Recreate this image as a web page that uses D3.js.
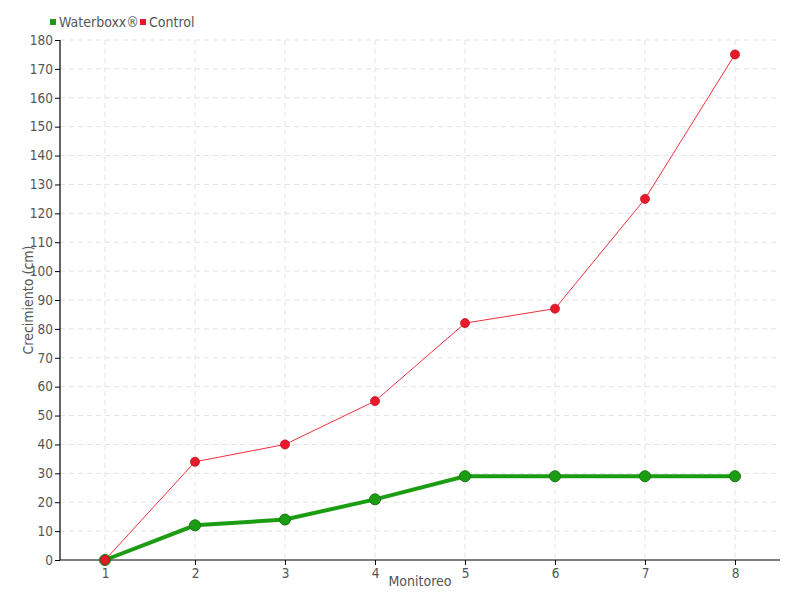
<!DOCTYPE html>
<html>
<head>
<meta charset="utf-8">
<script src="https://cdn.jsdelivr.net/npm/d3@7"></script>
<style>
  body { margin: 0; background: #fff; }
  text { font-family: "DejaVu Sans", sans-serif; font-stretch: condensed; fill: #555; }
</style>
</head>
<body>
<svg id="chart" width="800" height="600"></svg>
<script>
var monitoreo = ["1", "2", "3", "4", "5", "6", "7", "8"];
var waterboxx = [0, 12, 14, 21, 29, 29, 29, 29];
var control = [0, 34, 40, 55, 82, 87, 125, 175];
var yTicks = d3.range(0, 181, 10);

var margin = { top: 40, right: 20, bottom: 40, left: 60 };
var width = 800 - margin.left - margin.right;
var height = 600 - margin.top - margin.bottom;
var fontFam = '"DejaVu Sans", sans-serif';

var svg = d3.select('#chart');
var g = svg.append('g').attr('transform', 'translate(' + margin.left + ',' + margin.top + ')');

var x = d3.scalePoint().domain(monitoreo).range([0, width]).padding(0.5);
var y = d3.scaleLinear().domain([0, 180]).range([height, 0]);

// grid
g.append('g').selectAll('line.hgrid')
    .data(yTicks.slice(1))
    .enter().append('line')
    .attr('x1', 0).attr('x2', width)
    .attr('y1', function (d) { return y(d); })
    .attr('y2', function (d) { return y(d); })
    .attr('stroke', '#e3e3e3').attr('stroke-dasharray', '5,4');

g.append('g').selectAll('line.vgrid')
    .data(monitoreo)
    .enter().append('line')
    .attr('x1', function (d) { return x(d); })
    .attr('x2', function (d) { return x(d); })
    .attr('y1', 0).attr('y2', height)
    .attr('stroke', '#e3e3e3').attr('stroke-dasharray', '5,4');

// axes
var yAxis = g.append('g')
    .call(d3.axisLeft(y).tickValues(yTicks).tickSize(5).tickPadding(2));
var xAxis = g.append('g')
    .attr('transform', 'translate(0,' + height + ')')
    .call(d3.axisBottom(x).tickSize(5).tickPadding(3));

[xAxis, yAxis].forEach(function (a) {
    a.select('.domain').attr('stroke', '#000').attr('stroke-width', 1.2);
    a.selectAll('.tick line').attr('stroke', '#000');
    a.selectAll('.tick text').attr('font-size', 13.5).style('fill', '#555')
        .attr('font-family', fontFam).style('font-stretch', 'condensed');
});
yAxis.select('.domain').attr('d', 'M0,' + height + 'V0');
xAxis.select('.domain').attr('d', 'M0,0H' + width);

// series
var line = d3.line()
    .x(function (d, i) { return x(monitoreo[i]); })
    .y(function (d) { return y(d); });

g.append('path').datum(waterboxx)
    .attr('d', line).attr('fill', 'none')
    .attr('stroke', '#1c9c12').attr('stroke-width', 4);

g.append('path').datum(control)
    .attr('d', line).attr('fill', 'none')
    .attr('stroke', '#f0303f').attr('stroke-width', 1);

g.append('g').selectAll('circle')
    .data(waterboxx).enter().append('circle')
    .attr('cx', function (d, i) { return x(monitoreo[i]); })
    .attr('cy', function (d) { return y(d); })
    .attr('r', 5.5)
    .attr('fill', '#1c9c12').attr('stroke', '#14780e').attr('stroke-width', 1);

g.append('g').selectAll('circle')
    .data(control).enter().append('circle')
    .attr('cx', function (d, i) { return x(monitoreo[i]); })
    .attr('cy', function (d) { return y(d); })
    .attr('r', 4.5)
    .attr('fill', '#e8192a').attr('stroke', '#c01020').attr('stroke-width', 0.8);

// axis titles
svg.append('text')
    .attr('x', margin.left + width / 2).attr('y', 586)
    .attr('text-anchor', 'middle').attr('font-size', 14)
    .text('Monitoreo');

svg.append('text')
    .attr('transform', 'translate(33,' + (margin.top + height / 2) + ') rotate(-90)')
    .attr('text-anchor', 'middle').attr('font-size', 14)
    .text('Crecimiento (cm)');

// legend
var legendItems = [
    { name: 'Waterboxx®', color: '#1c9c12', x: 50 },
    { name: 'Control', color: '#e8192a', x: 140 }
];
var legend = svg.append('g').selectAll('g')
    .data(legendItems).enter().append('g')
    .attr('transform', function (d) { return 'translate(' + d.x + ',22)'; });
legend.append('rect')
    .attr('x', 0).attr('y', -3).attr('width', 6).attr('height', 6)
    .attr('fill', function (d) { return d.color; });
legend.append('text')
    .attr('x', 9).attr('y', 5).attr('font-size', 14)
    .text(function (d) { return d.name; });
</script>
</body>
</html>
